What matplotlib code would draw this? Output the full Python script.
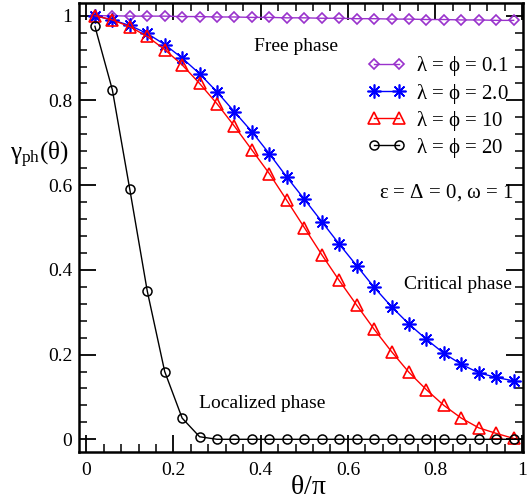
import numpy as np
import matplotlib
matplotlib.use("Agg")
import matplotlib.pyplot as plt
from matplotlib.ticker import MultipleLocator

plt.rcParams['font.family'] = ['Liberation Serif', 'DejaVu Serif']
plt.rcParams['mathtext.fontset'] = 'custom'
plt.rcParams['mathtext.rm'] = 'Liberation Serif'
plt.rcParams['mathtext.it'] = 'Liberation Serif'

# theta/pi sample points
theta = [0.02, 0.06, 0.10, 0.14, 0.18, 0.22, 0.26, 0.30, 0.34, 0.38, 0.42, 0.46, 0.50,
         0.54, 0.58, 0.62, 0.66, 0.70, 0.74, 0.78, 0.82, 0.86, 0.90, 0.94, 0.98]

# gamma_ph values
g_01 = [1.000, 1.000, 0.999, 0.999, 0.999, 0.998, 0.998, 0.997, 0.997, 0.996, 0.996, 0.995, 0.995,
        0.994, 0.994, 0.993, 0.993, 0.992, 0.992, 0.991, 0.991, 0.990, 0.990, 0.989, 0.989]
g_2 = [1.000, 0.990, 0.977, 0.958, 0.932, 0.900, 0.863, 0.820, 0.773, 0.726, 0.674, 0.619, 0.567,
       0.514, 0.461, 0.410, 0.359, 0.313, 0.272, 0.236, 0.203, 0.177, 0.157, 0.146, 0.138]
g_10 = [1.000, 0.990, 0.974, 0.951, 0.920, 0.884, 0.840, 0.792, 0.739, 0.683, 0.627, 0.564, 0.500,
        0.436, 0.375, 0.317, 0.260, 0.207, 0.158, 0.117, 0.080, 0.050, 0.027, 0.014, 0.002]
g_20 = [0.975, 0.825, 0.590, 0.350, 0.160, 0.050, 0.006, 0.0, 0.0, 0.0, 0.0, 0.0, 0.0,
        0.0, 0.0, 0.0, 0.0, 0.0, 0.0, 0.0, 0.0, 0.0, 0.0, 0.0, 0.0]

labels = [r'$\lambda$ = $\phi$ = 0.1', r'$\lambda$ = $\phi$ = 2.0',
          r'$\lambda$ = $\phi$ = 10', r'$\lambda$ = $\phi$ = 20']

fig = plt.figure(figsize=(5.28, 5.0), dpi=100)
ax = fig.add_axes([0.150, 0.096, 0.841, 0.898])

purple = '#9932cc'
ax.plot(theta, g_01, color=purple, lw=1.0, marker='D', ms=5, mfc='none', mec=purple, mew=1.2, label=labels[0])
ax.plot(theta, g_2, color='blue', lw=1.0, marker=(8, 2, 0), ms=10, mec='blue', mew=1.2, label=labels[1])
ax.plot(theta, g_10, color='red', lw=1.0, marker='^', ms=8, mfc='none', mec='red', mew=1.2, label=labels[2])
ax.plot(theta + [1.0], g_20 + [0.0], color='black', lw=1.0, marker='o', ms=6.5, mfc='none', mec='black',
        mew=1.1, markevery=list(range(len(theta))), label=labels[3])

ax.set_xlim(-0.016, 1.002)
ax.set_ylim(-0.03, 1.03)
ax.xaxis.set_minor_locator(MultipleLocator(0.04))
ax.yaxis.set_minor_locator(MultipleLocator(0.04))
ax.set_xticks([0, 0.2, 0.4, 0.6, 0.8, 1.0])
ax.set_xticklabels(['0', '0.2', '0.4', '0.6', '0.8', '1'])
ax.set_yticks([0, 0.2, 0.4, 0.6, 0.8, 1.0])
ax.set_yticklabels(['0', '0.2', '0.4', '0.6', '0.8', '1'])

ax.tick_params(which='both', direction='in', top=True, right=True, labelsize=14, pad=5)
ax.tick_params(axis='x', pad=7)
ax.tick_params(which='major', length=12, width=1.3)
ax.tick_params(which='minor', length=6, width=1.1)
for s in ax.spines.values():
    s.set_linewidth(1.8)

ax.set_xlabel(r'$\theta/\pi$', fontsize=20)
ax.xaxis.set_label_coords(0.515, -0.052, transform=ax.transAxes)
ax.xaxis.label.set_va('top')
fig.text(0.018, 0.69, r'$\gamma_{\rm ph}(\theta)$', fontsize=18, ha='left', va='center')

leg = ax.legend(loc='upper right', bbox_to_anchor=(1.0, 0.918), frameon=False, fontsize=15,
                numpoints=2, handlelength=1.8, handletextpad=0.5, labelspacing=0.15, borderaxespad=0.3)

ax.text(0.481, 0.927, 'Free phase', fontsize=14, ha='center', va='center')
ax.text(0.825, 0.583, r'$\epsilon$ = $\Delta$ = 0, $\omega$ = 1', fontsize=15, ha='center', va='center')
ax.text(0.852, 0.365, 'Critical phase', fontsize=14, ha='center', va='center')
ax.text(0.404, 0.084, 'Localized phase', fontsize=14, ha='center', va='center')

fig.savefig('out.png', dpi=100)
